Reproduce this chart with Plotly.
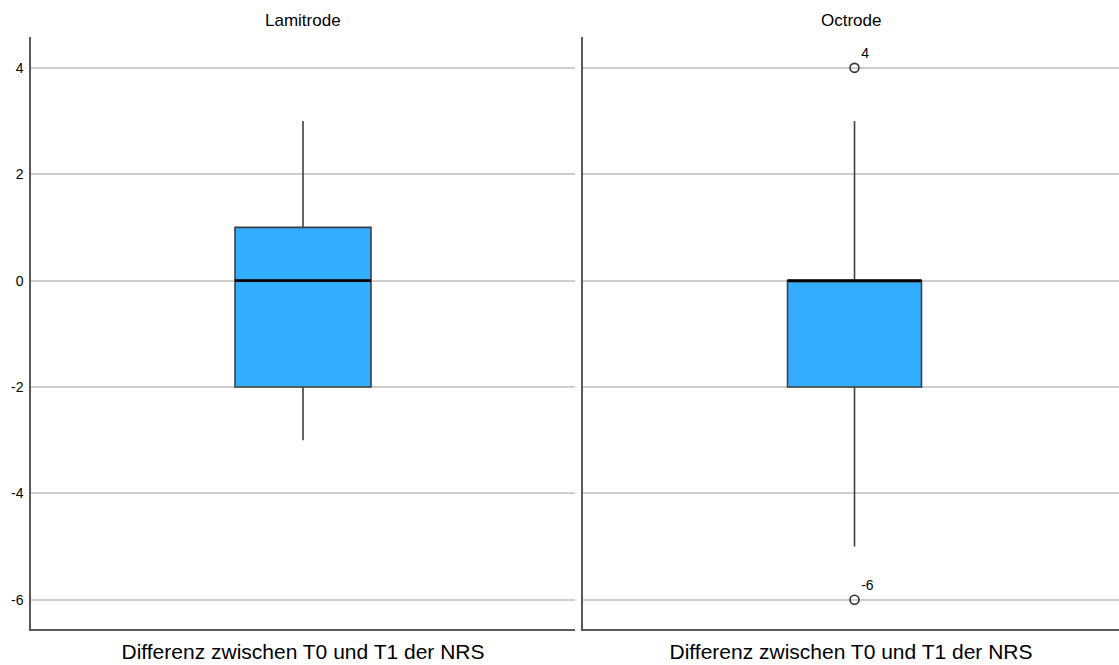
import plotly.graph_objects as go

# ---- data ----
groups = ["Lamitrode", "Octrode"]
lower_whisker = [-3, -5]
q1 = [-2, -2]
median = [0, 0]
q3 = [1, 0]
upper_whisker = [3, 3]
outliers = [[], [4, -6]]
outlier_labels = [[], ["4", "-6"]]
y_ticks = [-6, -4, -2, 0, 2, 4]
x_title = "Differenz zwischen T0 und T1 der NRS"

# ---- style ----
fill = "#33adff"
box_line = "#404040"
axis_col = "#5a5a5a"
grid_col = "#cdcdcd"
font_family = "Liberation Sans, Arial, sans-serif"
box_w = 0.5
domains = [[0.0, 0.5], [0.5074, 1.0]]
x_ranges = [[-1, 1], [-1.013, 0.987]]

fig = go.Figure()
for i, g in enumerate(groups):
    xa = "x" if i == 0 else f"x{i+1}"
    ya = "y" if i == 0 else f"y{i+1}"
    fig.add_trace(go.Box(
        x=[0], q1=[q1[i]], median=[median[i]], q3=[q3[i]],
        lowerfence=[lower_whisker[i]], upperfence=[upper_whisker[i]],
        width=box_w, fillcolor=fill, line=dict(color=box_line, width=1.6),
        whiskerwidth=0, boxpoints=False, xaxis=xa, yaxis=ya, showlegend=False,
        hoverinfo="skip",
    ))
    # thicker median line over the box
    fig.add_trace(go.Scatter(
        x=[-box_w / 2, box_w / 2], y=[median[i], median[i]], mode="lines",
        line=dict(color="#000000", width=2.6), xaxis=xa, yaxis=ya,
        showlegend=False, hoverinfo="skip",
    ))
    if outliers[i]:
        fig.add_trace(go.Scatter(
            x=[0] * len(outliers[i]), y=outliers[i], mode="markers+text",
            text=outlier_labels[i], textposition="top right",
            textfont=dict(size=14, color="#000", family=font_family),
            marker=dict(symbol="circle-open", size=9, color="#333",
                        line=dict(width=1.6, color="#333")),
            xaxis=xa, yaxis=ya, showlegend=False, hoverinfo="skip",
            cliponaxis=False,
        ))

yr = [-6.55, 4.58]
layout = dict(
    width=1119, height=665,
    margin=dict(l=31, r=0, t=37, b=36),
    paper_bgcolor="white", plot_bgcolor="white",
    font=dict(family=font_family, color="#000"),
    showlegend=False,
)
annotations = []
for i, g in enumerate(groups):
    sfx = "" if i == 0 else str(i + 1)
    layout[f"xaxis{sfx}"] = dict(
        domain=domains[i], range=x_ranges[i], showticklabels=False, ticks="",
        showgrid=False, zeroline=False, showline=True, linecolor=axis_col,
        linewidth=1.5, anchor=f"y{sfx}", fixedrange=True,
        title=dict(text=x_title, font=dict(size=21, family=font_family), standoff=15),
    )
    layout[f"yaxis{sfx}"] = dict(
        range=yr, tickvals=y_ticks, ticktext=[str(t) for t in y_ticks],
        showticklabels=(i == 0), ticks="", showgrid=True, gridcolor=grid_col,
        gridwidth=1.5, zeroline=False, showline=True, linecolor=axis_col,
        linewidth=1.5, anchor=f"x{sfx}", tickfont=dict(size=14), ticklabelstandoff=3,
        fixedrange=True,
    )
    annotations.append(dict(
        text=g, xref=f"x{sfx} domain", yref="paper", x=0.5, y=1, yshift=5,
        yanchor="bottom", showarrow=False, font=dict(size=17, family=font_family),
    ))
layout["annotations"] = annotations
fig.update_layout(**layout)
fig.write_html("out.html")
